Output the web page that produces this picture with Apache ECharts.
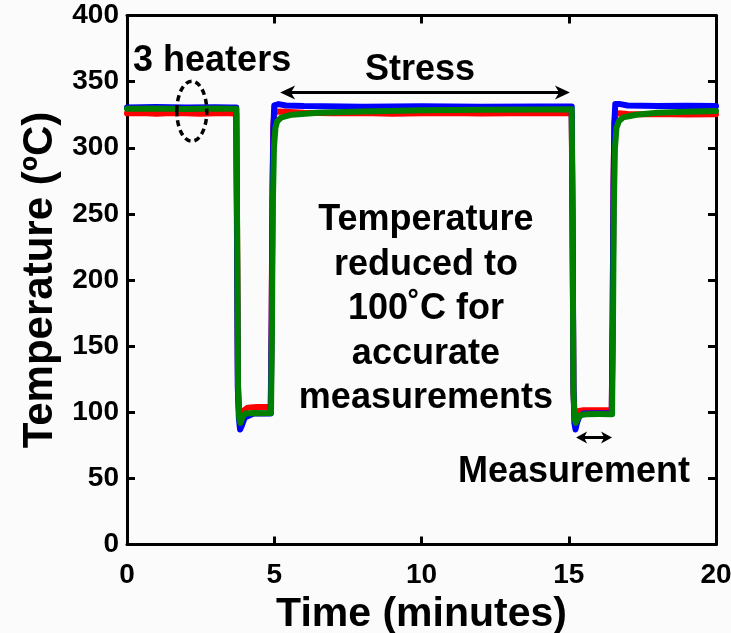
<!DOCTYPE html>
<html>
<head>
<meta charset="utf-8">
<title>Heater temperature during stress cycles</title>
<script src="https://cdn.jsdelivr.net/npm/echarts@6.0.0/dist/echarts.min.js"></script>
<style>
  html, body { margin: 0; padding: 0; background: #fbfbfb; }
  #chart { width: 731px; height: 633px; }
</style>
</head>
<body>
<div id="chart"></div>
<script>
// Heater 1 (red): time in minutes, temperature in degrees C
const timeRed = [0, 0.5, 1, 1.5, 2, 2.5, 3, 3.5, 3.71, 3.74, 3.77, 3.81, 3.86, 3.95, 4.1, 4.4, 4.7, 4.88, 4.91, 4.94, 4.97, 5.01, 5.1, 5.4, 6, 7, 8, 9, 10, 11, 12, 13, 14, 15.1, 15.13, 15.16, 15.2, 15.25, 15.35, 15.5, 16, 16.46, 16.49, 16.52, 16.55, 16.59, 16.7, 17, 17.5, 18, 19, 20];
const tempRed = [326, 326.3, 325.8, 326.2, 326, 325.7, 326.1, 326, 325.8, 230, 120, 97, 98, 101, 103.5, 104, 104, 104, 170, 270, 318, 326.5, 327.5, 327.2, 326.5, 326, 326.2, 325.8, 326, 326.2, 325.9, 326.1, 326, 326, 230, 115, 97, 99, 101, 101.5, 101.6, 101.5, 175, 275, 318, 325.5, 326, 325.5, 325.3, 325.5, 325.2, 325.4];

// Heater 2 (blue)
const timeBlue = [0, 1, 2, 3, 3.5, 3.71, 3.73, 3.76, 3.8, 3.84, 3.9, 4.0, 4.3, 4.6, 4.88, 4.91, 4.94, 4.97, 5.0, 5.05, 5.15, 5.4, 6, 8, 10, 12, 14, 15.1, 15.13, 15.16, 15.19, 15.23, 15.28, 15.36, 15.5, 16, 16.46, 16.49, 16.52, 16.55, 16.58, 16.63, 16.75, 17, 18, 19, 20];
const tempBlue = [330.5, 330.8, 330.4, 330.7, 330.5, 330.4, 250, 120, 95, 87, 90, 96, 99, 99, 99, 160, 260, 315, 332, 333.5, 333, 332, 331.5, 331, 331.3, 331, 331.2, 331.2, 250, 120, 92, 87, 92, 97, 99, 99.2, 99, 170, 270, 320, 333, 334, 333, 332, 331.5, 331.8, 331.5];

// Heater 3 (green)
const timeGreen = [0, 1, 2, 3, 3.5, 3.71, 3.74, 3.77, 3.81, 3.85, 3.92, 4.02, 4.3, 4.6, 4.89, 4.92, 4.95, 4.99, 5.04, 5.1, 5.25, 5.6, 6.5, 8, 10, 12, 14, 15.1, 15.13, 15.16, 15.2, 15.24, 15.3, 15.4, 15.6, 16, 16.47, 16.5, 16.53, 16.57, 16.62, 16.7, 16.85, 17.3, 18, 19, 20];
const tempGreen = [329.5, 329.7, 329.3, 329.6, 329.5, 329.4, 240, 120, 95, 92, 96, 99, 99.5, 99.3, 99.4, 160, 255, 300, 315, 320, 323, 325, 326.5, 327.5, 328.3, 328.8, 329, 329.2, 240, 115, 95, 92, 95, 98, 98.5, 98.6, 98.5, 160, 255, 300, 315, 320, 323, 325, 326.5, 327.3, 327.8];

// Axis ticks
const timeTicks = [0, 5, 10, 15, 20];
const tempTicks = [0, 50, 100, 150, 200, 250, 300, 350, 400];

const FONT = "'Liberation Sans', Arial, Helvetica, sans-serif";

function pairs(ts, vs) { return ts.map((t, i) => [t, vs[i]]); }

const chart = echarts.init(document.getElementById('chart'));

const baseX = {
  type: 'value', min: timeTicks[0], max: timeTicks[timeTicks.length - 1], interval: 5,
  splitLine: { show: false },
  axisLine: { show: true, onZero: false, lineStyle: { color: '#000', width: 3 } },
  axisTick: { show: true, inside: true, length: 8, lineStyle: { color: '#000', width: 3 } }
};
const baseY = {
  type: 'value', min: tempTicks[0], max: tempTicks[tempTicks.length - 1], interval: 50,
  splitLine: { show: false },
  axisLine: { show: true, onZero: false, lineStyle: { color: '#000', width: 3 } },
  axisTick: { show: true, inside: true, length: 8, lineStyle: { color: '#000', width: 3 } }
};

function lineSeries(name, color, ts, vs) {
  return {
    name: name, type: 'line', data: pairs(ts, vs), showSymbol: false, symbol: 'none',
    smooth: false, animation: false, clip: true,
    lineStyle: { color: color, width: 6, join: 'round', cap: 'round' }
  };
}

chart.setOption({
  backgroundColor: '#fbfbfb',
  animation: false,
  grid: { left: 127, right: 15, top: 15.5, bottom: 88.5, containLabel: false, outerBoundsMode: 'none' },
  xAxis: [
    Object.assign({}, baseX, {
      position: 'bottom',
      axisLabel: { show: true, color: '#000', fontSize: 28, fontWeight: 'bold', fontFamily: FONT, margin: 17 },
      name: 'Time (minutes)', nameLocation: 'middle', nameGap: 44,
      nameTextStyle: { color: '#000', fontSize: 41, fontWeight: 'bold', fontFamily: FONT }
    }),
    Object.assign({}, baseX, { position: 'top', axisLabel: { show: false } })
  ],
  yAxis: [
    Object.assign({}, baseY, {
      position: 'left',
      axisLabel: { show: true, color: '#000', fontSize: 28, fontWeight: 'bold', fontFamily: FONT, margin: 8, padding: [0, 0, 6, 0] },
      name: 'Temperature (ºC)', nameLocation: 'middle', nameGap: 66, nameRotate: 90,
      nameTextStyle: { color: '#000', fontSize: 42, fontWeight: 'bold', fontFamily: FONT }
    }),
    Object.assign({}, baseY, { position: 'right', axisLabel: { show: false } })
  ],
  series: [
    lineSeries('Heater 1', '#ff0000', timeRed, tempRed),
    lineSeries('Heater 2', '#0000ff', timeBlue, tempBlue),
    lineSeries('Heater 3', '#008000', timeGreen, tempGreen)
  ]
});

// Annotation anchors in data space (minutes, degrees C)
const notes = {
  heaters: { at: [2.89, 365.6], text: '3 heaters' },
  stress: { at: [9.95, 358.8], text: 'Stress' },
  reduced: { at: [10.15, 178], text: 'Temperature\nreduced to\n100˚C for\naccurate\nmeasurements' },
  measurement: { at: [15.18, 54.4], text: 'Measurement' }
};
const stressArrow = { from: [5.2, 341.8], to: [15.04, 341.8] };
const measureArrow = { from: [15.25, 80.9], to: [16.47, 80.9] };
const heaterRing = { at: [2.2, 327.6] };

const px = p => chart.convertToPixel({ xAxisIndex: 0, yAxisIndex: 0 }, p);

function textEl(note, lineHeight) {
  const p = px(note.at);
  return {
    type: 'text', x: p[0], y: p[1], z: 100,
    style: {
      text: note.text, fill: '#000', font: 'bold 36px ' + FONT,
      align: 'center', verticalAlign: 'middle', lineHeight: lineHeight || 40
    }
  };
}

function head(tip, dir, len, half) {
  const bx = tip[0] - dir * len;
  return {
    type: 'polygon', z: 100,
    shape: { points: [tip, [bx, tip[1] - half], [tip[0] - dir * len * 0.72, tip[1]], [bx, tip[1] + half]] },
    style: { fill: '#000' }
  };
}

function doubleArrow(a, len, half, width) {
  const p1 = px(a.from), p2 = px(a.to);
  return [
    { type: 'line', z: 100, shape: { x1: p1[0] + len * 0.6, y1: p1[1], x2: p2[0] - len * 0.6, y2: p2[1] },
      style: { stroke: '#000', lineWidth: width } },
    head(p1, -1, len, half),
    head(p2, 1, len, half)
  ];
}

const ring = px(heaterRing.at);

chart.setOption({
  graphic: [
    textEl(notes.heaters),
    textEl(notes.stress),
    textEl(notes.reduced, 44.5),
    textEl(notes.measurement),
    ...doubleArrow(stressArrow, 15, 7, 3),
    ...doubleArrow(measureArrow, 11, 6, 3),
    { type: 'ellipse', z: 100, shape: { cx: ring[0], cy: ring[1], rx: 15, ry: 30 },
      style: { fill: 'none', stroke: '#000', lineWidth: 3.5, lineDash: [6, 4] } }
  ]
});
</script>
</body>
</html>
